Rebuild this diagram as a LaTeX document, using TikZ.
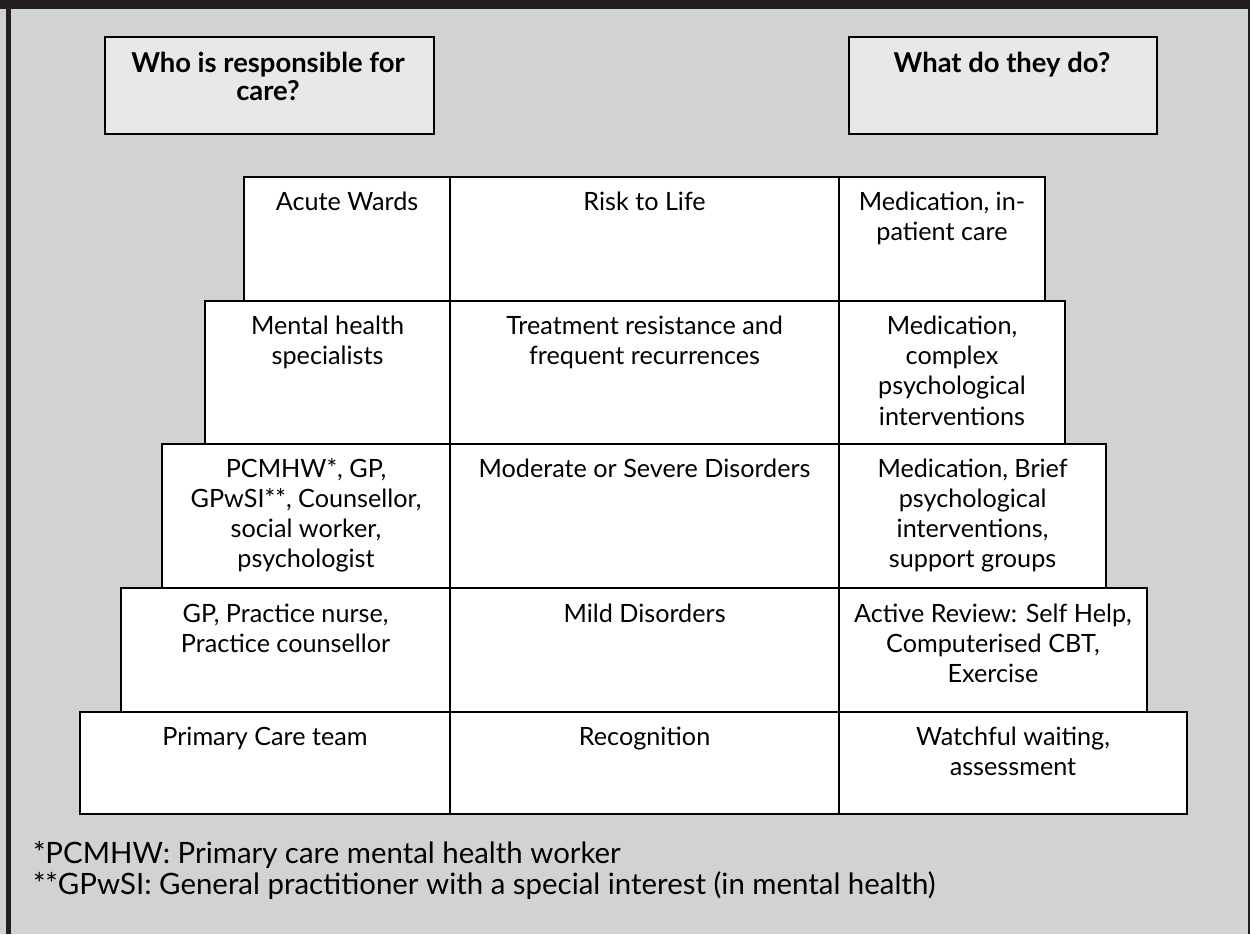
\documentclass[tikz,border=0pt]{standalone}
\usepackage{fontspec}
\setmainfont{Lato}
\usepackage{tikz}

\begin{document}
\begin{tikzpicture}[x=1pt,y=1pt,
  cell/.style={draw=drawColor,line width=1pt,line join=miter,fill=white},
  headbox/.style={draw=drawColor,line width=1pt,line join=miter,fill=boxColor},
  celltext/.style={text=drawColor,anchor=base,inner sep=0pt,outer sep=0pt,font=\fontsize{12.6}{15}\selectfont},
  headtext/.style={text=drawColor,anchor=base,inner sep=0pt,outer sep=0pt,font=\fontsize{13.7}{15}\selectfont\bfseries},
  note/.style={text=drawColor,anchor=base west,inner sep=0pt,outer sep=0pt,font=\fontsize{14.7}{16}\selectfont}]
\definecolor{drawColor}{RGB}{0,0,0}
\definecolor{bgColor}{RGB}{209,210,212}
\definecolor{barColor}{RGB}{35,31,32}
\definecolor{boxColor}{RGB}{232,232,232}

% panel, title bar and frame
\path[use as bounding box,fill=bgColor] (0,0) rectangle (625,467);
\path[fill=barColor] (0,462.3) rectangle (625,467);
\path[fill=barColor] (3,0) rectangle (5.5,462.3);
\path[fill=barColor] (624,0) rectangle (625,462.3);

% column headings
\path[headbox] ( 52.5,400.0) rectangle (217.0,448.5);
\path[headbox] (424.5,400.0) rectangle (578.5,448.5);

\node[headtext] (who1) at (134.0,430.5) {Who is responsible for};
\node[headtext] (who2) at (134.0,416.5) {care?};
\node[headtext] (what1) at (501.0,430.8) {What do they do?};

% stepped levels, top to bottom
\path[cell] (122.0,316.5) rectangle (225.0,378.5);
\path[cell] (225.0,316.5) rectangle (419.5,378.5);
\path[cell] (419.5,316.5) rectangle (522.5,378.5);

\path[cell] (102.5,245.0) rectangle (225.0,316.5);
\path[cell] (225.0,245.0) rectangle (419.5,316.5);
\path[cell] (419.5,245.0) rectangle (532.5,316.5);

\path[cell] ( 81.0,173.0) rectangle (225.0,245.0);
\path[cell] (225.0,173.0) rectangle (419.5,245.0);
\path[cell] (419.5,173.0) rectangle (553.0,245.0);

\path[cell] ( 60.5,111.0) rectangle (225.0,173.0);
\path[cell] (225.0,111.0) rectangle (419.5,173.0);
\path[cell] (419.5,111.0) rectangle (573.5,173.0);

\path[cell] ( 40.0, 60.0) rectangle (225.0,111.0);
\path[cell] (225.0, 60.0) rectangle (419.5,111.0);
\path[cell] (419.5, 60.0) rectangle (593.5,111.0);

% level 1
\node[celltext] (L1a) at (173.5,361.5) {Acute Wards};
\node[celltext] (M1a) at (322.3,361.5) {Risk to Life};
\node[celltext] (R1a) at (471.0,361.5) {Medication, in-};
\node[celltext] (R1b) at (471.0,346.5) {patient care};

% level 2
\node[celltext] (L2a) at (163.8,299.5) {Mental health};
\node[celltext] (L2b) at (163.8,284.5) {specialists};
\node[celltext] (M2a) at (322.3,299.5) {Treatment resistance and};
\node[celltext] (M2b) at (322.3,284.5) {frequent recurrences};
\node[celltext] (R2a) at (476.0,299.5) {Medication,};
\node[celltext] (R2b) at (476.0,284.5) {complex};
\node[celltext] (R2c) at (476.0,269.5) {psychological};
\node[celltext] (R2d) at (476.0,254.5) {interventions};

% level 3
\node[celltext] (L3a) at (153.0,228.0) {PCMHW*, GP,};
\node[celltext] (L3b) at (153.0,213.0) {GPwSI**, Counsellor,};
\node[celltext] (L3c) at (153.0,198.0) {social worker,};
\node[celltext] (L3d) at (153.0,183.0) {psychologist};
\node[celltext] (M3a) at (322.3,228.0) {Moderate or Severe Disorders};
\node[celltext] (R3a) at (486.3,228.0) {Medication, Brief};
\node[celltext] (R3b) at (486.3,213.0) {psychological};
\node[celltext] (R3c) at (486.3,198.0) {interventions,};
\node[celltext] (R3d) at (486.3,183.0) {support groups};

% level 4
\node[celltext] (L4a) at (142.8,156.0) {GP, Practice nurse,};
\node[celltext] (L4b) at (142.8,141.0) {Practice counsellor};
\node[celltext] (M4a) at (322.3,156.0) {Mild Disorders};
\node[celltext] (R4a) at (496.5,156.0) {Active Review: Self Help,};
\node[celltext] (R4b) at (496.5,141.0) {Computerised CBT,};
\node[celltext] (R4c) at (496.5,126.0) {Exercise};

% level 5
\node[celltext] (L5a) at (132.5, 94.5) {Primary Care team};
\node[celltext] (M5a) at (322.3, 94.5) {Recognition};
\node[celltext] (R5a) at (506.5, 94.5) {Watchful waiting,};
\node[celltext] (R5b) at (506.5, 79.5) {assessment};

% footnotes
\node[note] (fn1) at (16.5,35.5) {*PCMHW: Primary care mental health worker};
\node[note] (fn2) at (16.5,20.0) {**GPwSI: General practitioner with a special interest (in mental health)};
\end{tikzpicture}
\end{document}
